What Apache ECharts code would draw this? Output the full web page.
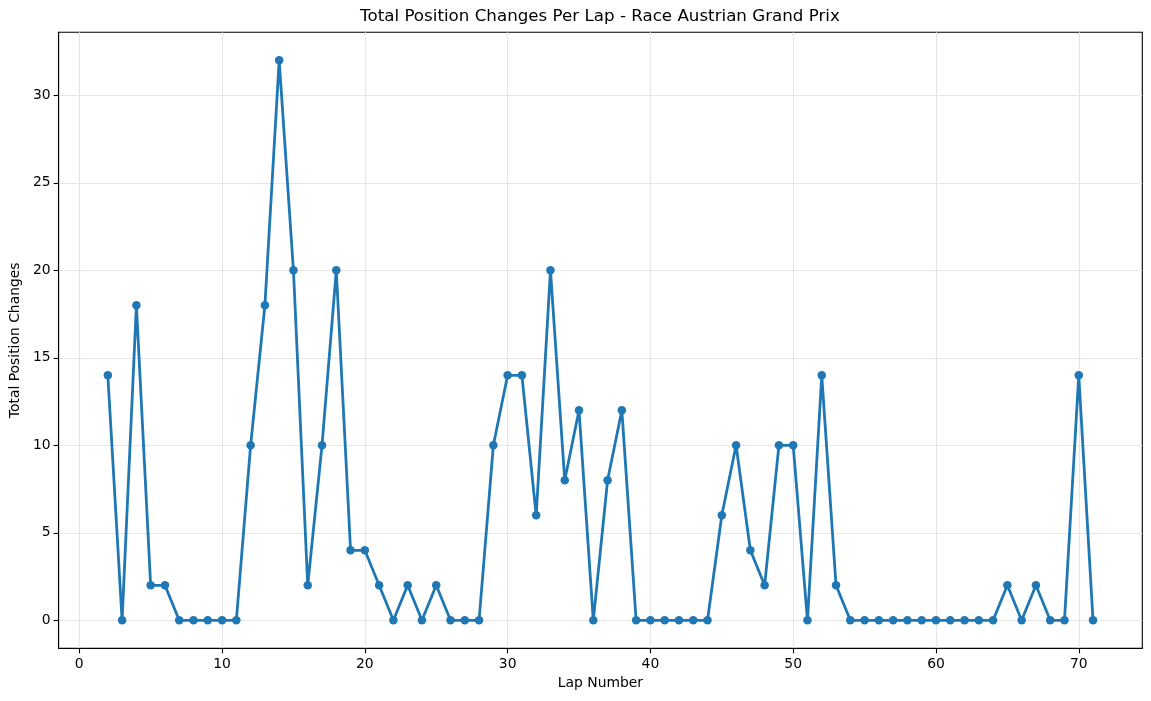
<!DOCTYPE html>
<html>
<head>
<meta charset="utf-8">
<script src="https://cdn.jsdelivr.net/npm/echarts@6/dist/echarts.min.js"></script>
<style>
html,body{margin:0;padding:0;background:#fff;}
#chart{width:1151px;height:701px;}
</style>
</head>
<body>
<div id="chart"></div>
<script>
var laps = [2,3,4,5,6,7,8,9,10,11,12,13,14,15,16,17,18,19,20,21,22,23,24,25,26,27,28,29,30,31,32,33,34,35,36,37,38,39,40,41,42,43,44,45,46,47,48,49,50,51,52,53,54,55,56,57,58,59,60,61,62,63,64,65,66,67,68,69,70,71];
var changes = [14,0,18,2,2,0,0,0,0,0,10,18,32,20,2,10,20,4,4,2,0,2,0,2,0,0,0,10,14,14,6,20,8,12,0,8,12,0,0,0,0,0,0,6,10,4,2,10,10,0,14,2,0,0,0,0,0,0,0,0,0,0,0,2,0,2,0,0,14,0];
var xTicks = [0,10,20,30,40,50,60,70];
var yTicks = [0,5,10,15,20,25,30];
var titleText = 'Total Position Changes Per Lap - Race Austrian Grand Prix';
var xName = 'Lap Number';
var yName = 'Total Position Changes';

var points = laps.map(function(l, i){ return [l, changes[i]]; });
var font = 'DejaVu Sans';
var chart = echarts.init(document.getElementById('chart'), null, {renderer:'canvas'});
chart.setOption({
  animation: false,
  backgroundColor: '#fff',
  graphic: [{
    type: 'text', x: 600, y: 17,
    style: {text: titleText, textAlign: 'center', textVerticalAlign: 'middle',
            font: '16.7px "DejaVu Sans"', fill: '#000'}
  }],
  grid: {left: 57.7, right: 8.7, top: 32.3, bottom: 52.7, show: true,
         borderColor: '#000', borderWidth: 1.1, backgroundColor: 'transparent'},
  xAxis: {
    type: 'value', min: -1.45, max: 74.45, splitNumber: 8,
    name: xName, nameLocation: 'middle', nameGap: 28,
    nameTextStyle: {fontFamily: font, fontSize: 13.9, color: '#000'},
    axisLine: {show: true, onZero: false, lineStyle: {color: '#000', width: 1.1}},
    axisTick: {show: true, length: 5, customValues: xTicks, lineStyle: {color: '#000', width: 1.1}},
    axisLabel: {customValues: xTicks, fontFamily: font, fontSize: 13.9, color: '#000', margin: 9},
    splitLine: {show: true, lineStyle: {color: '#e6e6e6', width: 1.1}}
  },
  yAxis: {
    type: 'value', min: -1.6, max: 33.6, splitNumber: 7,
    name: yName, nameLocation: 'middle', nameGap: 33, nameRotate: 90,
    nameTextStyle: {fontFamily: font, fontSize: 13.9, color: '#000'},
    axisLine: {show: true, onZero: false, lineStyle: {color: '#000', width: 1.1}},
    axisTick: {show: true, length: 5, customValues: yTicks, lineStyle: {color: '#000', width: 1.1}},
    axisLabel: {customValues: yTicks, fontFamily: font, fontSize: 13.9, color: '#000', margin: 8},
    splitLine: {show: true, lineStyle: {color: '#e6e6e6', width: 1.1}}
  },
  series: [{
    type: 'line', data: points,
    symbol: 'circle', symbolSize: 8.5, showAllSymbol: true,
    lineStyle: {color: '#1f77b4', width: 2.8},
    itemStyle: {color: '#1f77b4', borderWidth: 0},
    emphasis: {disabled: true}
  }]
});
</script>
</body>
</html>
